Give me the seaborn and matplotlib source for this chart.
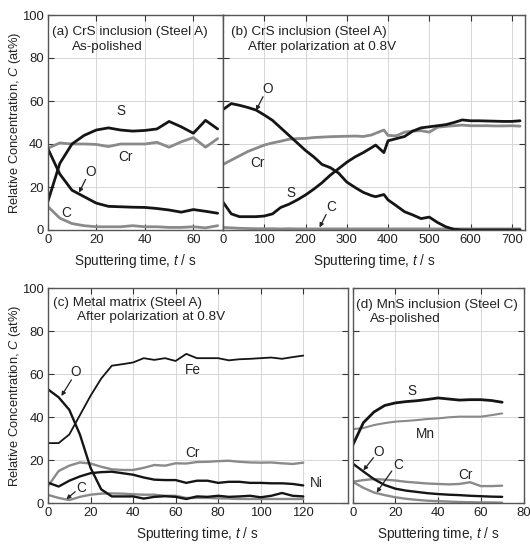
import numpy as np
import pandas as pd
import matplotlib
matplotlib.use("Agg")
import matplotlib.pyplot as plt
import seaborn as sns

# ---------------- data ----------------
# (a) CrS inclusion, as-polished
a_t  = [0, 5, 10, 15, 20, 25, 30, 35, 40, 45, 50, 55, 60, 65, 70]
a_S  = [13, 31, 40, 44, 46.5, 47.5, 46.5, 46, 46.3, 47, 50.5, 48, 45, 51, 47]
a_Cr = [38, 40.5, 40, 40, 39.8, 38.8, 40, 40, 40, 40.8, 38.5, 41, 43, 38.5, 42.5]
a_O  = [38, 26, 18.5, 15.5, 12.5, 11, 10.8, 10.6, 10.5, 10, 9.3, 8.3, 9.5, 8.7, 7.8]
a_C  = [11, 5.5, 3, 2, 1.5, 1.5, 1.5, 2, 1.5, 1.5, 1.2, 1.2, 1.5, 1, 2]

# (b) CrS inclusion, after polarization
b_t  = [0, 20, 40, 60, 80, 100, 120, 140, 160, 180, 200, 220, 240, 260, 280, 300, 320, 340, 360,
        370, 390, 400, 420, 440, 460, 480, 500, 520, 540, 560, 580, 600, 620, 640, 660, 680, 700, 720]
b_O  = [56, 58.8, 58, 57, 55.8, 53.5, 51, 47.5, 44, 40.5, 37, 34, 30.5, 29, 26.5, 22.3, 19.8, 17.5, 16,
        15.5, 16.5, 14, 11.3, 8.5, 7, 5.3, 6, 3.5, 1.5, 0.3, 0, 0, 0, 0, 0, 0, 0, 0]
b_S  = [13, 7.5, 6.2, 6.2, 6.2, 6.5, 7.5, 10.5, 12, 14, 16.3, 19, 22, 25.5, 28.5, 31.5, 34, 36, 38.3,
        39.5, 36, 41.5, 42.5, 43.5, 46, 47.5, 48, 48.5, 49, 50, 51.2, 50.8, 50.8, 50.7, 50.6, 50.5, 50.5, 50.8]
b_Cr = [30.5, 32.5, 34.5, 36.5, 38, 39.5, 40.5, 41.3, 42.2, 42.5, 42.6, 43, 43.2, 43.4, 43.5, 43.6, 43.7, 43.5, 44.2,
        45, 46.5, 44, 43.8, 45.5, 46, 46.2, 45.5, 47.8, 48.2, 48.5, 48.8, 48.5, 48.5, 48.5, 48.4, 48.4, 48.5, 48.3]
b_C  = [1.2, 1.0, 0.8, 0.7, 0.6, 0.6, 0.6, 0.5, 0.6, 0.5, 0.5, 0.5, 0.5, 0.5, 0.5, 0.5, 0.5, 0.5, 0.5,
        0.5, 0.5, 0.5, 0.5, 0.5, 0.5, 0.5, 0.5, 0.5, 0.5, 0.5, 0.5, 0.5, 0.5, 0.5, 0.5, 0.5, 0.5, 0.5]

# (c) Metal matrix, after polarization
c_t  = [0, 5, 10, 15, 20, 25, 30, 35, 40, 45, 50, 55, 60, 65, 70, 75, 80, 85, 90, 95, 100, 105, 110, 115, 120]
c_Fe = [28, 28, 32, 41, 50, 58, 64, 64.7, 65.5, 67.5, 66.7, 67.5, 66.2, 69.5, 67.5, 67.5, 67.5, 66.5, 67, 67.2,
        67.5, 67.8, 67.2, 68, 68.7]
c_O  = [53, 49.3, 43.5, 32, 16.5, 6.5, 3.2, 3.2, 3.2, 2.2, 3, 3.3, 3, 2, 3.2, 3, 3.5, 3, 3.2, 3.5, 2.8, 3.5, 4.8,
        3.5, 3.2]
c_Cr = [8, 15, 17.5, 19, 18.5, 17, 15.8, 15.5, 15.5, 16.5, 17.8, 17.5, 18.6, 18.5, 19.2, 19.3, 19.6, 19.8, 19.3,
        19, 18.9, 19, 18.6, 18.3, 18.9]
c_Ni = [9.6, 7.8, 10.5, 12.5, 14, 14.5, 14.7, 14, 13.3, 12, 11, 10.8, 10.8, 9.5, 10.5, 10.5, 9.5, 10, 10, 9.5,
        9.5, 9.3, 9.3, 9, 8.3]
c_C  = [3.9, 2.5, 1.5, 3, 4, 4.5, 4.6, 4.5, 4.2, 4, 4, 3.5, 3.5, 2.5, 2.5, 2.5, 2.3, 2.2, 2, 2, 2, 2, 2, 2, 2]

# (d) MnS inclusion, as-polished
d_t  = [0, 5, 10, 15, 20, 25, 30, 35, 40, 45, 50, 55, 60, 65, 70]
d_S  = [27, 37.5, 42.5, 45.5, 46.7, 47.3, 47.7, 48.3, 49, 48.5, 48, 48.2, 48.2, 47.8, 47]
d_Mn = [34.5, 35, 36.4, 37.3, 38, 38.3, 38.7, 39.2, 39.5, 40, 40.3, 40.3, 40.3, 41, 41.8]
d_O  = [18.5, 14.8, 11.2, 8.5, 6.8, 5.9, 5.3, 4.7, 4.3, 4, 3.8, 3.5, 3.3, 3.1, 3]
d_Cr = [10, 10.8, 11.3, 11, 10.6, 10, 9.6, 9.2, 9, 8.8, 9, 9.8, 8, 8, 8.2]
d_C  = [10, 7.2, 5, 3.8, 2.8, 2.1, 1.6, 1.2, 1, 0.8, 0.6, 0.5, 0.4, 0.4, 0.3]

# ---------------- style ----------------
sns.set_theme(style="ticks")
plt.rcParams['font.family'] = ['Liberation Sans', 'DejaVu Sans']
plt.rcParams['mathtext.fontset'] = 'custom'
plt.rcParams['mathtext.rm'] = 'Liberation Sans'
plt.rcParams['mathtext.it'] = 'Liberation Sans:italic'

BLACK = '#151515'
GRAY = '#8a8a8a'
FS = 9.8       # annotation size
FS_TITLE = 9.7
FS_TICK = 9.4
FS_XL = 9.8
FS_YL = 9.3

fig = plt.figure(figsize=(5.3, 5.45), dpi=100)
W, H = 530, 545


def make_ax(x0, x1, y0, y1):
    return fig.add_axes([x0 / W, 1 - y1 / H, (x1 - x0) / W, (y1 - y0) / H])


axA = make_ax(47.7, 222.5, 15, 230)
axB = make_ax(223.0, 525.0, 15, 230)
axC = make_ax(48.0, 347.5, 288.3, 503.3)
axD = make_ax(352.7, 523.5, 288.3, 503.3)


def draw(ax, t, series, color, lw):
    df = pd.DataFrame({'t': t, 'v': series})
    sns.lineplot(data=df, x='t', y='v', ax=ax, color=color, lw=lw, estimator=None, sort=False)


def style(ax, xlim, xticks, ylabels):
    ax.set_xlim(*xlim)
    ax.set_ylim(0, 100)
    ax.set_xticks(xticks)
    ax.set_yticks(range(0, 101, 20))
    ax.grid(True, color='#d6d6d6', lw=0.7)
    ax.set_axisbelow(True)
    ax.tick_params(direction='in', length=4, width=0.8, top=True, right=True,
                   labelsize=FS_TICK, colors='#333333', labelcolor='#222222', pad=3)
    for s in ax.spines.values():
        s.set_color('#555555')
        s.set_linewidth(1.0)
    ax.set_xlabel('Sputtering time, $t$ / s', fontsize=FS_XL, color='#222222', labelpad=4)
    if ylabels:
        ax.set_ylabel('Relative Concentration, $C$ (at%)', fontsize=FS_YL, color='#222222')
    else:
        ax.set_ylabel('')
        ax.set_yticklabels([])


def txt(ax, x, y, s):
    ax.text(x, y, s, fontsize=FS, color='#222222', ha='center', va='center')


def arrow(ax, start, end):
    ax.annotate('', xy=end, xytext=start,
                arrowprops=dict(arrowstyle='-|>', lw=0.9, color='#222222', mutation_scale=6,
                                shrinkA=0, shrinkB=0))


def title(ax, l1, l2, x1, y1, x2, y2):
    ax.text(x1, y1, l1, transform=ax.transAxes, fontsize=FS_TITLE, color='#222222', va='center', ha='left')
    ax.text(x2, y2, l2, transform=ax.transAxes, fontsize=FS_TITLE, color='#222222', va='center', ha='left')


# (a)
draw(axA, a_t, a_C, GRAY, 2.0)
draw(axA, a_t, a_Cr, GRAY, 2.0)
draw(axA, a_t, a_O, BLACK, 2.0)
draw(axA, a_t, a_S, BLACK, 2.0)
style(axA, (0, 72), range(0, 61, 20), True)
axA.yaxis.set_label_coords(-0.14, 0.5)
title(axA, '(a) CrS inclusion (Steel A)', 'As-polished', 0.025, 0.92, 0.139, 0.852)
txt(axA, 30, 55.5, 'S')
txt(axA, 32, 34, 'Cr')
txt(axA, 17.5, 27, 'O')
arrow(axA, (15.6, 23.5), (12.9, 17.4))
txt(axA, 7.6, 7.8, 'C')

# (b)
draw(axB, b_t, b_C, GRAY, 2.0)
draw(axB, b_t, b_Cr, GRAY, 2.0)
draw(axB, b_t, b_O, BLACK, 2.0)
draw(axB, b_t, b_S, BLACK, 2.0)
style(axB, (0, 732), range(0, 701, 100), False)
title(axB, '(b) CrS inclusion (Steel A)', 'After polarization at 0.8V', 0.0255, 0.922, 0.083, 0.853)
txt(axB, 108, 65.6, 'O')
arrow(axB, (97, 62), (80, 55.6))
txt(axB, 83.5, 31, 'Cr')
txt(axB, 165, 17.3, 'S')
txt(axB, 262, 10.5, 'C')
arrow(axB, (250, 7.2), (234, 1.2))

# (c)
draw(axC, c_t, c_C, GRAY, 1.7)
draw(axC, c_t, c_Cr, GRAY, 1.7)
draw(axC, c_t, c_Ni, BLACK, 1.7)
draw(axC, c_t, c_O, BLACK, 1.7)
draw(axC, c_t, c_Fe, BLACK, 1.3)
style(axC, (0, 140.8), range(0, 121, 20), True)
axC.yaxis.set_label_coords(-0.082, 0.5)
title(axC, '(c) Metal matrix (Steel A)', 'After polarization at 0.8V', 0.018, 0.933, 0.096, 0.865)
txt(axC, 68, 62, 'Fe')
txt(axC, 68, 23.3, 'Cr')
txt(axC, 126, 9.3, 'Ni')
txt(axC, 13, 61.2, 'O')
arrow(axC, (11, 57.4), (6.3, 49.9))
txt(axC, 15.7, 7, 'C')
arrow(axC, (12.8, 5.4), (8.6, 1.9))

# (d)
draw(axD, d_t, d_C, GRAY, 1.7)
draw(axD, d_t, d_Cr, GRAY, 1.7)
draw(axD, d_t, d_Mn, GRAY, 1.5)
draw(axD, d_t, d_O, BLACK, 1.7)
draw(axD, d_t, d_S, BLACK, 2.0)
style(axD, (0, 80), range(0, 81, 20), False)
title(axD, '(d) MnS inclusion (Steel C)', 'As-polished', 0.019, 0.922, 0.10, 0.856)
txt(axD, 27.7, 52.4, 'S')
txt(axD, 34, 32.2, 'Mn')
txt(axD, 52.7, 13.2, 'Cr')
txt(axD, 12, 24, 'O')
arrow(axD, (9.7, 21.2), (5, 15.3))
txt(axD, 21.4, 17.8, 'C')
arrow(axD, (18.3, 15), (11.2, 5))

fig.savefig('out.png', dpi=100)
